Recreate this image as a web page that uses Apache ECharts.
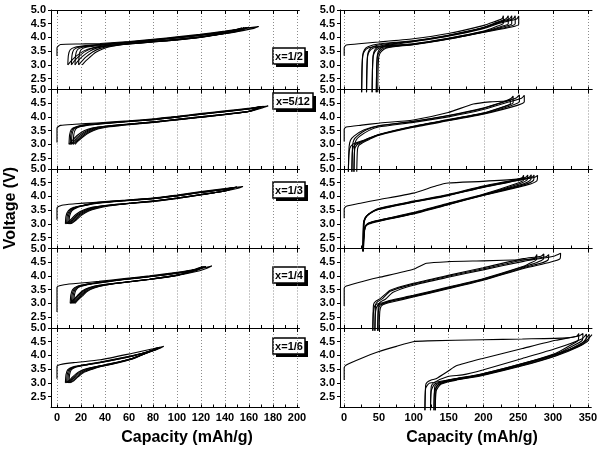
<!DOCTYPE html>
<html><head><meta charset="utf-8">
<script src="https://cdn.jsdelivr.net/npm/echarts@6/dist/echarts.min.js"></script>
<style>html,body{margin:0;padding:0;background:#fff}#c{width:600px;height:450px}</style>
</head><body><div id="c"></div><script>
// ---------- tick values ----------
const leftTicks=[0,20,40,60,80,100,120,140,160,180,200];
const leftAllTicks=[0,10,20,30,40,50,60,70,80,90,100,110,120,130,140,150,160,170,180,190,200];
const rightTicks=[0,50,100,150,200,250,300,350];
const rightAllTicks=[0,25,50,75,100,125,150,175,200,225,250,275,300,325,350];
const voltTicks=[2.5,3.0,3.5,4.0,4.5,5.0];
const panelLabels=['x=1/2','x=5/12','x=1/3','x=1/4','x=1/6'];
const yTitle='Voltage (V)';
const xTitle='Capacity (mAh/g)';

// ---------- left column curves [capacity, voltage] ----------
const L1_1=[[0,3.32],[0,3.62],[3,3.74],[20,3.76],[36,3.78],[60,3.85],[82,3.94],[100,4.02],[119,4.11],[140,4.23],[155,4.32],[168,4.4],[164,4.33],[150,4.21],[140,4.14],[119,4.01],[100,3.93],[82,3.86],[60,3.78],[40,3.69],[30,3.62],[22,3.5],[16,3.32],[12,3.15],[9,3.0]];
const L1_2=[[9,3.0],[9.5,3.35],[11,3.55],[15,3.64],[24,3.7],[36,3.75],[60,3.83],[82,3.92],[100,4.0],[119,4.09],[140,4.21],[152,4.3],[160,4.37],[157,4.31],[150,4.22],[140,4.15],[119,4.02],[100,3.93],[82,3.86],[60,3.78],[40,3.69],[31,3.62],[24,3.5],[18,3.3],[14,3.12],[12,3.0]];
const L1_3=[[12,3.0],[12.5,3.35],[14,3.55],[18,3.64],[27,3.7],[38,3.75],[60,3.83],[82,3.91],[100,3.99],[119,4.08],[140,4.2],[150,4.28],[158,4.36],[155,4.3],[148,4.21],[138,4.13],[119,4.01],[100,3.92],[82,3.85],[60,3.77],[42,3.69],[33,3.61],[27,3.49],[21,3.3],[17,3.12],[15,3.0]];
const L1_4=[[15,3.0],[15.5,3.35],[17,3.55],[21,3.64],[30,3.7],[40,3.74],[60,3.82],[82,3.91],[100,3.99],[119,4.08],[140,4.2],[148,4.27],[156,4.35],[153,4.29],[146,4.2],[136,4.12],[119,4.0],[100,3.91],[82,3.84],[60,3.76],[44,3.68],[36,3.6],[30,3.48],[24,3.28],[20,3.1],[18,3.0]];
const L1_5=[[18,3.0],[18.5,3.35],[20,3.55],[24,3.64],[32,3.69],[42,3.73],[60,3.81],[82,3.9],[100,3.98],[119,4.07],[140,4.19],[147,4.26],[154,4.34],[151,4.28],[144,4.19],[134,4.11],[119,4.0],[100,3.91],[82,3.84],[60,3.76],[46,3.68],[38,3.58],[32,3.45],[27,3.26],[23,3.1],[21,3.0]];

const L2_1=[[0,3.07],[0,3.6],[3,3.69],[15,3.73],[33,3.78],[60,3.86],[83,3.94],[100,4.02],[119,4.12],[140,4.22],[161,4.32],[176,4.4],[172,4.34],[161,4.21],[140,4.1],[119,4.0],[100,3.91],[83,3.83],[60,3.74],[40,3.66],[30,3.6],[23,3.5],[17,3.33],[13,3.15],[10,3.0]];
const L2_2=[[10,3.0],[10.5,3.35],[12,3.55],[16,3.64],[22,3.7],[33,3.75],[60,3.84],[83,3.92],[100,4.0],[119,4.1],[140,4.2],[161,4.3],[172,4.39],[169,4.33],[161,4.21],[140,4.1],[119,4.0],[100,3.91],[83,3.83],[60,3.74],[40,3.66],[31,3.59],[24,3.48],[18,3.3],[14,3.12],[11,3.0]];
const L2_3=[[11,3.0],[11.5,3.35],[13,3.55],[17,3.64],[23,3.7],[34,3.75],[60,3.84],[83,3.92],[100,4.0],[119,4.1],[140,4.2],[160,4.3],[171,4.38],[168,4.32],[160,4.2],[140,4.09],[119,3.99],[100,3.9],[83,3.82],[60,3.73],[42,3.66],[32,3.58],[25,3.46],[19,3.28],[15,3.1],[12,3.0]];
const L2_4=[[12,3.0],[12.5,3.35],[14,3.55],[18,3.64],[24,3.69],[35,3.74],[60,3.83],[83,3.91],[100,3.99],[119,4.09],[140,4.19],[160,4.29],[170,4.38],[167,4.32],[160,4.2],[140,4.09],[119,3.99],[100,3.9],[83,3.82],[60,3.73],[43,3.65],[33,3.57],[26,3.44],[20,3.26],[16,3.1],[13.5,3.0]];
const L2_5=[[13.5,3.0],[14,3.35],[15.5,3.55],[19,3.64],[25,3.69],[36,3.74],[60,3.83],[83,3.91],[100,3.99],[119,4.09],[140,4.19],[159,4.29],[169,4.37],[166,4.31],[159,4.2],[140,4.08],[119,3.98],[100,3.89],[83,3.81],[60,3.72],[44,3.64],[34,3.56],[27,3.43],[21,3.25],[17,3.1],[15,3.0]];

const L3_1=[[0,3.15],[0,3.58],[4,3.68],[15,3.73],[30,3.78],[55,3.86],[80,3.94],[100,4.05],[120,4.18],[140,4.29],[155,4.36],[151,4.3],[140,4.2],[120,4.07],[100,3.94],[80,3.83],[60,3.75],[40,3.67],[30,3.61],[22,3.5],[16,3.35],[12,3.18],[9,3.06],[7,3.0]];
const L3_2=[[7,3.0],[7.5,3.28],[9.5,3.48],[14,3.6],[22,3.68],[30,3.76],[55,3.85],[80,3.93],[100,4.03],[120,4.16],[140,4.27],[150,4.34],[146,4.28],[140,4.2],[120,4.07],[100,3.94],[80,3.83],[60,3.75],[40,3.67],[31,3.6],[23,3.49],[17,3.33],[13,3.17],[10,3.05],[8,3.0]];
const L3_3=[[8,3.0],[8.5,3.28],[10.5,3.48],[15,3.6],[23,3.68],[31,3.75],[55,3.84],[80,3.93],[100,4.03],[120,4.15],[140,4.26],[149,4.33],[145,4.27],[140,4.2],[120,4.06],[100,3.94],[80,3.83],[60,3.74],[41,3.66],[32,3.59],[24,3.48],[18,3.32],[14,3.16],[11,3.05],[9,3.0]];
const L3_4=[[9,3.0],[9.5,3.28],[11.5,3.48],[16,3.6],[24,3.68],[32,3.75],[55,3.84],[80,3.92],[100,4.02],[120,4.15],[140,4.26],[148,4.32],[144,4.26],[138,4.19],[120,4.06],[100,3.93],[80,3.82],[60,3.74],[42,3.66],[33,3.58],[25,3.47],[19,3.31],[15,3.15],[12,3.04],[10,3.0]];
const L3_5=[[10,3.0],[10.5,3.28],[12.5,3.48],[17,3.6],[25,3.68],[33,3.74],[55,3.83],[80,3.92],[100,4.02],[120,4.14],[140,4.25],[147,4.31],[143,4.25],[137,4.18],[120,4.05],[100,3.93],[80,3.82],[60,3.74],[43,3.65],[34,3.57],[26,3.46],[20,3.3],[16,3.14],[13,3.04],[11,3.0]];

const L4_1=[[0,2.68],[0,3.59],[2,3.64],[6,3.68],[20,3.74],[35,3.8],[56,3.9],[77,4.0],[100,4.13],[119,4.27],[129,4.36],[125,4.28],[119,4.19],[100,4.02],[77,3.88],[56,3.77],[35,3.66],[27,3.58],[21,3.45],[17,3.28],[13,3.1],[11,3.0]];
const L4_2=[[11,3.0],[11.5,3.3],[13,3.5],[17,3.62],[25,3.7],[35,3.77],[56,3.88],[77,3.98],[100,4.11],[115,4.22],[124,4.34],[120,4.26],[115,4.18],[100,4.03],[77,3.88],[56,3.77],[37,3.67],[28,3.58],[22,3.45],[18,3.28],[14,3.1],[12,3.0]];
const L4_3=[[12,3.0],[12.5,3.3],[14,3.5],[18,3.62],[26,3.7],[36,3.77],[56,3.88],[77,3.98],[100,4.11],[114,4.21],[123,4.34],[119,4.26],[114,4.18],[100,4.03],[77,3.88],[56,3.77],[38,3.67],[29,3.57],[23,3.44],[19,3.27],[15,3.1],[13,3.0]];
const L4_4=[[13,3.0],[13.5,3.3],[15,3.5],[19,3.62],[27,3.7],[37,3.76],[56,3.87],[77,3.97],[100,4.1],[113,4.2],[122,4.33],[118,4.25],[113,4.17],[100,4.02],[77,3.87],[56,3.76],[39,3.66],[30,3.56],[24,3.43],[20,3.26],[16,3.1],[14,3.0]];
const L4_5=[[14,3.0],[14.5,3.3],[16,3.5],[20,3.62],[28,3.7],[38,3.76],[56,3.87],[77,3.97],[100,4.1],[112,4.2],[121,4.33],[117,4.25],[112,4.17],[100,4.02],[77,3.87],[56,3.76],[40,3.66],[31,3.56],[25,3.43],[21,3.26],[17,3.1],[15,3.0]];

const L5_1=[[0,3.15],[0,3.6],[3,3.67],[15,3.74],[36,3.84],[63,4.08],[80,4.24],[89,4.33],[86,4.26],[80,4.17],[63,3.9],[45,3.7],[36,3.62],[25,3.52],[18,3.4],[13,3.22],[10,3.08],[7,3.0]];
const L5_2=[[7,3.0],[7.5,3.3],[9,3.48],[13,3.58],[20,3.64],[36,3.76],[63,4.0],[80,4.18],[86,4.3],[83,4.22],[78,4.14],[63,3.9],[45,3.7],[36,3.62],[26,3.52],[19,3.4],[14,3.22],[11,3.08],[8,3.0]];
const L5_3=[[8,3.0],[8.5,3.3],[10,3.48],[14,3.58],[21,3.64],[36,3.75],[63,3.99],[78,4.16],[85,4.29],[82,4.21],[77,4.13],[63,3.89],[45,3.69],[36,3.61],[27,3.51],[20,3.39],[15,3.21],[12,3.07],[9,3.0]];
const L5_4=[[9,3.0],[9.5,3.3],[11,3.48],[15,3.58],[22,3.64],[36,3.74],[63,3.98],[77,4.15],[84,4.28],[81,4.2],[76,4.12],[63,3.88],[45,3.68],[36,3.6],[28,3.5],[21,3.38],[16,3.2],[13,3.07],[10,3.0]];
const L5_5=[[10,3.0],[10.5,3.3],[12,3.48],[16,3.58],[23,3.64],[36,3.73],[63,3.97],[76,4.14],[83,4.27],[80,4.19],[75,4.11],[63,3.87],[45,3.67],[36,3.59],[29,3.49],[22,3.37],[17,3.2],[14,3.07],[11,3.0]];

// ---------- right column curves ----------
const R1_1=[[0,3.33],[0,3.62],[3,3.72],[25,3.78],[49,3.83],[99,3.95],[149,4.14],[199,4.43],[214,4.56],[226,4.68],[228,4.79],[228,4.52],[218,4.4],[199,4.22],[149,3.97],[99,3.77],[60,3.7],[45,3.67],[35,3.62],[29,3.5],[26.5,3.3],[25.5,2.8],[25,2.0]];
const R1_2=[[25,2.0],[25.5,2.8],[26.5,3.35],[29,3.55],[34,3.66],[49,3.76],[99,3.88],[149,4.08],[199,4.36],[218,4.54],[232,4.68],[235,4.79],[235,4.5],[225,4.4],[199,4.21],[149,3.96],[99,3.76],[65,3.69],[52,3.66],[42,3.61],[36,3.49],[33.5,3.3],[32.5,2.8],[32,2.0]];
const R1_3=[[32,2.0],[32.5,2.8],[33.5,3.35],[36,3.55],[41,3.66],[55,3.75],[99,3.87],[149,4.07],[199,4.35],[220,4.54],[237,4.68],[240,4.79],[240,4.5],[230,4.4],[199,4.2],[149,3.95],[99,3.75],[70,3.69],[58,3.65],[49,3.6],[44,3.48],[41.5,3.3],[40.5,2.8],[40,2.0]];
const R1_4=[[40,2.0],[40.5,2.8],[41.5,3.35],[44,3.55],[49,3.65],[60,3.74],[99,3.86],[149,4.06],[199,4.34],[222,4.54],[242,4.68],[245,4.79],[245,4.5],[235,4.39],[199,4.19],[149,3.94],[99,3.74],[72,3.68],[62,3.64],[54,3.58],[50,3.46],[47.5,3.28],[46.5,2.8],[46,2.0]];
const R1_5=[[46,2.0],[46.5,2.8],[47.5,3.35],[50,3.55],[55,3.65],[66,3.73],[99,3.84],[149,4.04],[199,4.32],[224,4.53],[247,4.67],[250,4.78],[250,4.48],[240,4.38],[199,4.18],[149,3.93],[99,3.73],[74,3.67],[64,3.63],[57,3.57],[52,3.45],[49.5,3.28],[48.5,2.8],[48,2.0]];

const R2_1=[[0,3.1],[0,3.55],[3,3.63],[25,3.7],[49,3.77],[99,3.89],[149,4.16],[185,4.47],[209,4.55],[232,4.58],[238,4.63],[238,4.48],[228,4.37],[199,4.14],[149,3.9],[99,3.66],[49,3.36],[30,3.17],[20,3.08],[12,3.0],[8,2.85],[6.5,2.5],[6,2.0]];
const R2_2=[[6,2.0],[7,2.9],[9,3.15],[14,3.3],[28,3.52],[49,3.68],[99,3.84],[149,4.05],[199,4.32],[228,4.55],[239,4.67],[242,4.76],[242,4.52],[232,4.4],[199,4.13],[149,3.89],[99,3.65],[49,3.35],[32,3.18],[22,3.07],[15,2.98],[12,2.8],[11,2.0]];
const R2_3=[[11,2.0],[12,2.95],[14,3.17],[19,3.31],[32,3.53],[49,3.67],[99,3.83],[149,4.04],[199,4.31],[230,4.55],[247,4.7],[251,4.8],[251,4.55],[240,4.42],[199,4.12],[149,3.88],[99,3.64],[49,3.34],[34,3.19],[25,3.08],[18,2.97],[15,2.8],[14,2.0]];
const R2_4=[[14,2.0],[15,2.95],[17,3.15],[22,3.29],[35,3.5],[49,3.63],[99,3.8],[149,4.0],[199,4.27],[232,4.52],[254,4.68],[258,4.79],[258,4.55],[248,4.42],[199,4.1],[149,3.86],[99,3.62],[49,3.32],[36,3.18],[27,3.07],[21,2.96],[19,2.8],[18,2.0]];

const R3_1=[[0,3.2],[0,3.55],[3,3.64],[25,3.76],[49,3.88],[99,4.12],[132,4.39],[149,4.49],[199,4.55],[247,4.63],[255,4.68],[257,4.77],[257,4.6],[247,4.47],[199,4.08],[149,3.75],[99,3.41],[49,3.13],[35,3.03],[30,2.9],[28,2.5],[27,2.0]];
const R3_2=[[27,2.0],[28,3.0],[30,3.2],[35,3.36],[49,3.56],[99,3.83],[149,4.07],[199,4.38],[247,4.62],[260,4.7],[263,4.78],[262,4.6],[250,4.45],[199,4.06],[149,3.73],[99,3.39],[49,3.12],[35,3.02],[30,2.9],[28,2.5],[27.5,2.0]];
const R3_3=[[27.5,2.0],[28.5,3.0],[30.5,3.2],[35,3.35],[49,3.54],[99,3.81],[149,4.05],[199,4.36],[247,4.6],[265,4.7],[268,4.79],[267,4.6],[255,4.44],[199,4.05],[149,3.72],[99,3.38],[49,3.11],[35,3.01],[30,2.88],[28,2.5],[27,2.0]];
const R3_4=[[27,2.0],[28,3.0],[30,3.2],[35,3.34],[49,3.53],[99,3.8],[149,4.04],[199,4.34],[247,4.58],[269,4.7],[272,4.78],[271,4.58],[258,4.43],[199,4.04],[149,3.71],[99,3.37],[49,3.1],[35,3.0],[30,2.88],[28,2.5],[26.5,2.0]];
const R3_5=[[26.5,2.0],[27.5,3.0],[29.5,3.2],[34,3.33],[49,3.52],[99,3.79],[149,4.03],[199,4.33],[247,4.57],[273,4.7],[277,4.77],[276,4.57],[262,4.42],[199,4.03],[149,3.7],[99,3.36],[49,3.09],[35,2.99],[30,2.87],[28.5,2.5],[27.5,2.0]];

const R4_1=[[0,2.9],[0,3.55],[3,3.63],[25,3.79],[49,3.94],[99,4.24],[118,4.46],[149,4.52],[199,4.55],[257,4.59],[272,4.62],[276,4.78],[275,4.58],[265,4.45],[257,4.35],[199,3.9],[149,3.59],[99,3.29],[66,3.11],[56,3.03],[45,2.95],[42,2.7],[41,2.0]];
const R4_2=[[41,2.0],[42,2.95],[45,3.07],[52,3.18],[66,3.48],[99,3.73],[149,4.02],[199,4.3],[257,4.63],[282,4.72],[286,4.8],[285,4.6],[275,4.48],[257,4.33],[199,3.88],[149,3.57],[99,3.27],[66,3.09],[57,3.01],[48,2.93],[45,2.7],[44,2.0]];
const R4_3=[[44,2.0],[45,2.95],[48,3.06],[55,3.17],[66,3.44],[99,3.7],[149,3.99],[199,4.26],[257,4.58],[289,4.7],[293,4.78],[292,4.58],[280,4.45],[257,4.3],[199,3.86],[149,3.55],[99,3.25],[66,3.07],[58,3.0],[51,2.92],[49,2.7],[48,2.0]];
const R4_4=[[48,2.0],[49,2.95],[52,3.05],[59,3.15],[70,3.4],[99,3.66],[149,3.95],[199,4.22],[257,4.53],[300,4.72],[310,4.83],[309,4.62],[295,4.5],[257,4.27],[199,3.84],[149,3.53],[99,3.23],[70,3.06],[60,2.99],[53,2.9],[51,2.7],[50,2.0]];

const R5_1=[[0,3.1],[0,3.55],[3,3.65],[25,3.9],[49,4.13],[75,4.33],[99,4.5],[120,4.53],[199,4.57],[256,4.6],[320,4.64],[334,4.7],[337,4.8],[336,4.55],[320,4.3],[304,4.08],[256,3.7],[199,3.33],[170,3.18],[150,3.1],[135,3.04],[122,2.98],[117,2.8],[116,2.0]];
const R5_2=[[116,2.0],[117,2.9],[119,3.02],[125,3.1],[132,3.15],[149,3.42],[161,3.62],[199,3.89],[256,4.25],[304,4.55],[338,4.72],[343,4.8],[342,4.55],[325,4.3],[304,4.03],[256,3.66],[199,3.3],[161,3.13],[145,3.05],[130,2.96],[125,2.7],[124,2.0]];
const R5_3=[[124,2.0],[125,2.85],[128,2.99],[149,3.23],[170,3.29],[199,3.47],[256,3.89],[304,4.25],[342,4.61],[348,4.78],[347,4.55],[330,4.3],[304,4.0],[256,3.64],[199,3.29],[161,3.11],[149,3.06],[136,2.95],[130,2.7],[129,2.0]];
const R5_4=[[129,2.0],[130,2.85],[133,2.95],[149,3.1],[161,3.16],[199,3.33],[256,3.7],[304,4.05],[340,4.4],[352,4.77],[351,4.55],[335,4.3],[304,3.98],[256,3.62],[199,3.27],[161,3.1],[150,3.04],[138,2.93],[132,2.7],[131,2.0]];
const R5_5=[[131,2.0],[132,2.85],[136,2.94],[149,3.08],[161,3.14],[199,3.31],[256,3.68],[304,4.03],[342,4.4],[356,4.76]];

const leftPanels=[[L1_1,L1_2,L1_3,L1_4,L1_5],[L2_1,L2_2,L2_3,L2_4,L2_5],[L3_1,L3_2,L3_3,L3_4,L3_5],[L4_1,L4_2,L4_3,L4_4,L4_5],[L5_1,L5_2,L5_3,L5_4,L5_5]];
const rightPanels=[[R1_1,R1_2,R1_3,R1_4,R1_5],[R2_1,R2_2,R2_3,R2_4],[R3_1,R3_2,R3_3,R3_4,R3_5],[R4_1,R4_2,R4_3,R4_4],[R5_1,R5_2,R5_3,R5_4,R5_5]];

// ---------- layout ----------
const FONT='"Liberation Sans", Arial, sans-serif';
const rowTop=10, rowH=79.5;
const cols=[
  {left:51,width:248.4,min:-5,max:202,ticks:leftTicks,all:leftAllTicks,panels:leftPanels,clip:true},
  {left:340,width:252,min:-6,max:355,ticks:rightTicks,all:rightAllTicks,panels:rightPanels,clip:false}
];
const boxTops=[48,93,182,267,338];
const boxWidths=[32,40,32,32,32];

const grid=[],xAxis=[],yAxis=[],series=[];
for(let r=0;r<5;r++){
  cols.forEach((c,ci)=>{
    const g=grid.length;
    const isBottom=r===4;
    grid.push({left:c.left,top:rowTop+r*rowH,width:c.width,height:rowH});
    const mainIdx=xAxis.length;
    xAxis.push({gridIndex:g,type:'value',min:c.min,max:c.max,position:'bottom',
      axisLine:{show:true,onZero:false,lineStyle:{color:'#000',width:1}},
      axisTick:{show:true,inside:true,length:3,customValues:c.all,lineStyle:{color:'#000',width:1}},
      axisLabel:{show:isBottom,customValues:c.ticks,margin:5,color:'#000',fontSize:11,fontWeight:'bold',fontFamily:FONT},
      splitLine:{show:false}});
    xAxis.push({gridIndex:g,type:'value',min:c.min,max:c.max,position:'top',
      axisLine:{show:true,onZero:false,lineStyle:{color:'#000',width:1}},
      axisTick:{show:true,inside:true,length:4,customValues:c.ticks,lineStyle:{color:'#000',width:1}},
      axisLabel:{show:false},
      splitLine:{show:true,lineStyle:{color:'#8c8c8c',width:1,type:[1,2]}}});
    yAxis.push({gridIndex:g,type:'value',min:2.1,max:5.0,
      axisLine:{show:true,onZero:false,lineStyle:{color:'#000',width:1}},
      axisTick:{show:true,inside:false,length:3,customValues:voltTicks,lineStyle:{color:'#000'}},
      axisLabel:{customValues:voltTicks,formatter:v=>v.toFixed(1),margin:5,color:'#000',fontSize:11,fontWeight:'bold',fontFamily:FONT},
      splitLine:{show:false}});
    c.panels[r].forEach(curve=>{
      series.push({type:'line',xAxisIndex:mainIdx,yAxisIndex:g,data:curve,symbol:'none',showSymbol:false,
        smooth:0.2,clip:c.clip,silent:true,lineStyle:{color:'#000',width:1.1}});
    });
  });
}

const graphic=[
  {type:'text',x:11,y:208,rotation:Math.PI/2,style:{text:yTitle,font:'bold 16px '+FONT,fill:'#000',align:'center',verticalAlign:'middle'}},
  {type:'text',x:187,y:438,style:{text:xTitle,font:'bold 16px '+FONT,fill:'#000',align:'center',verticalAlign:'middle'}},
  {type:'text',x:472,y:438,style:{text:xTitle,font:'bold 16px '+FONT,fill:'#000',align:'center',verticalAlign:'middle'}}
];
panelLabels.forEach((t,i)=>{
  const w=boxWidths[i], h=16, x=273, y=boxTops[i];
  graphic.push({type:'group',x:x,y:y,z:100,children:[
    {type:'rect',shape:{x:3,y:3,width:w,height:h},style:{fill:'#000'}},
    {type:'rect',shape:{x:0,y:0,width:w,height:h},style:{fill:'#fff',stroke:'#000',lineWidth:1.5}},
    {type:'text',x:w/2,y:h/2+0.5,style:{text:t,font:'bold 11px '+FONT,fill:'#000',align:'center',verticalAlign:'middle'}}
  ]});
});

const chart=echarts.init(document.getElementById('c'),null,{renderer:'canvas'});
chart.setOption({animation:false,backgroundColor:'#fff',grid,xAxis,yAxis,series,graphic});
</script></body></html>
